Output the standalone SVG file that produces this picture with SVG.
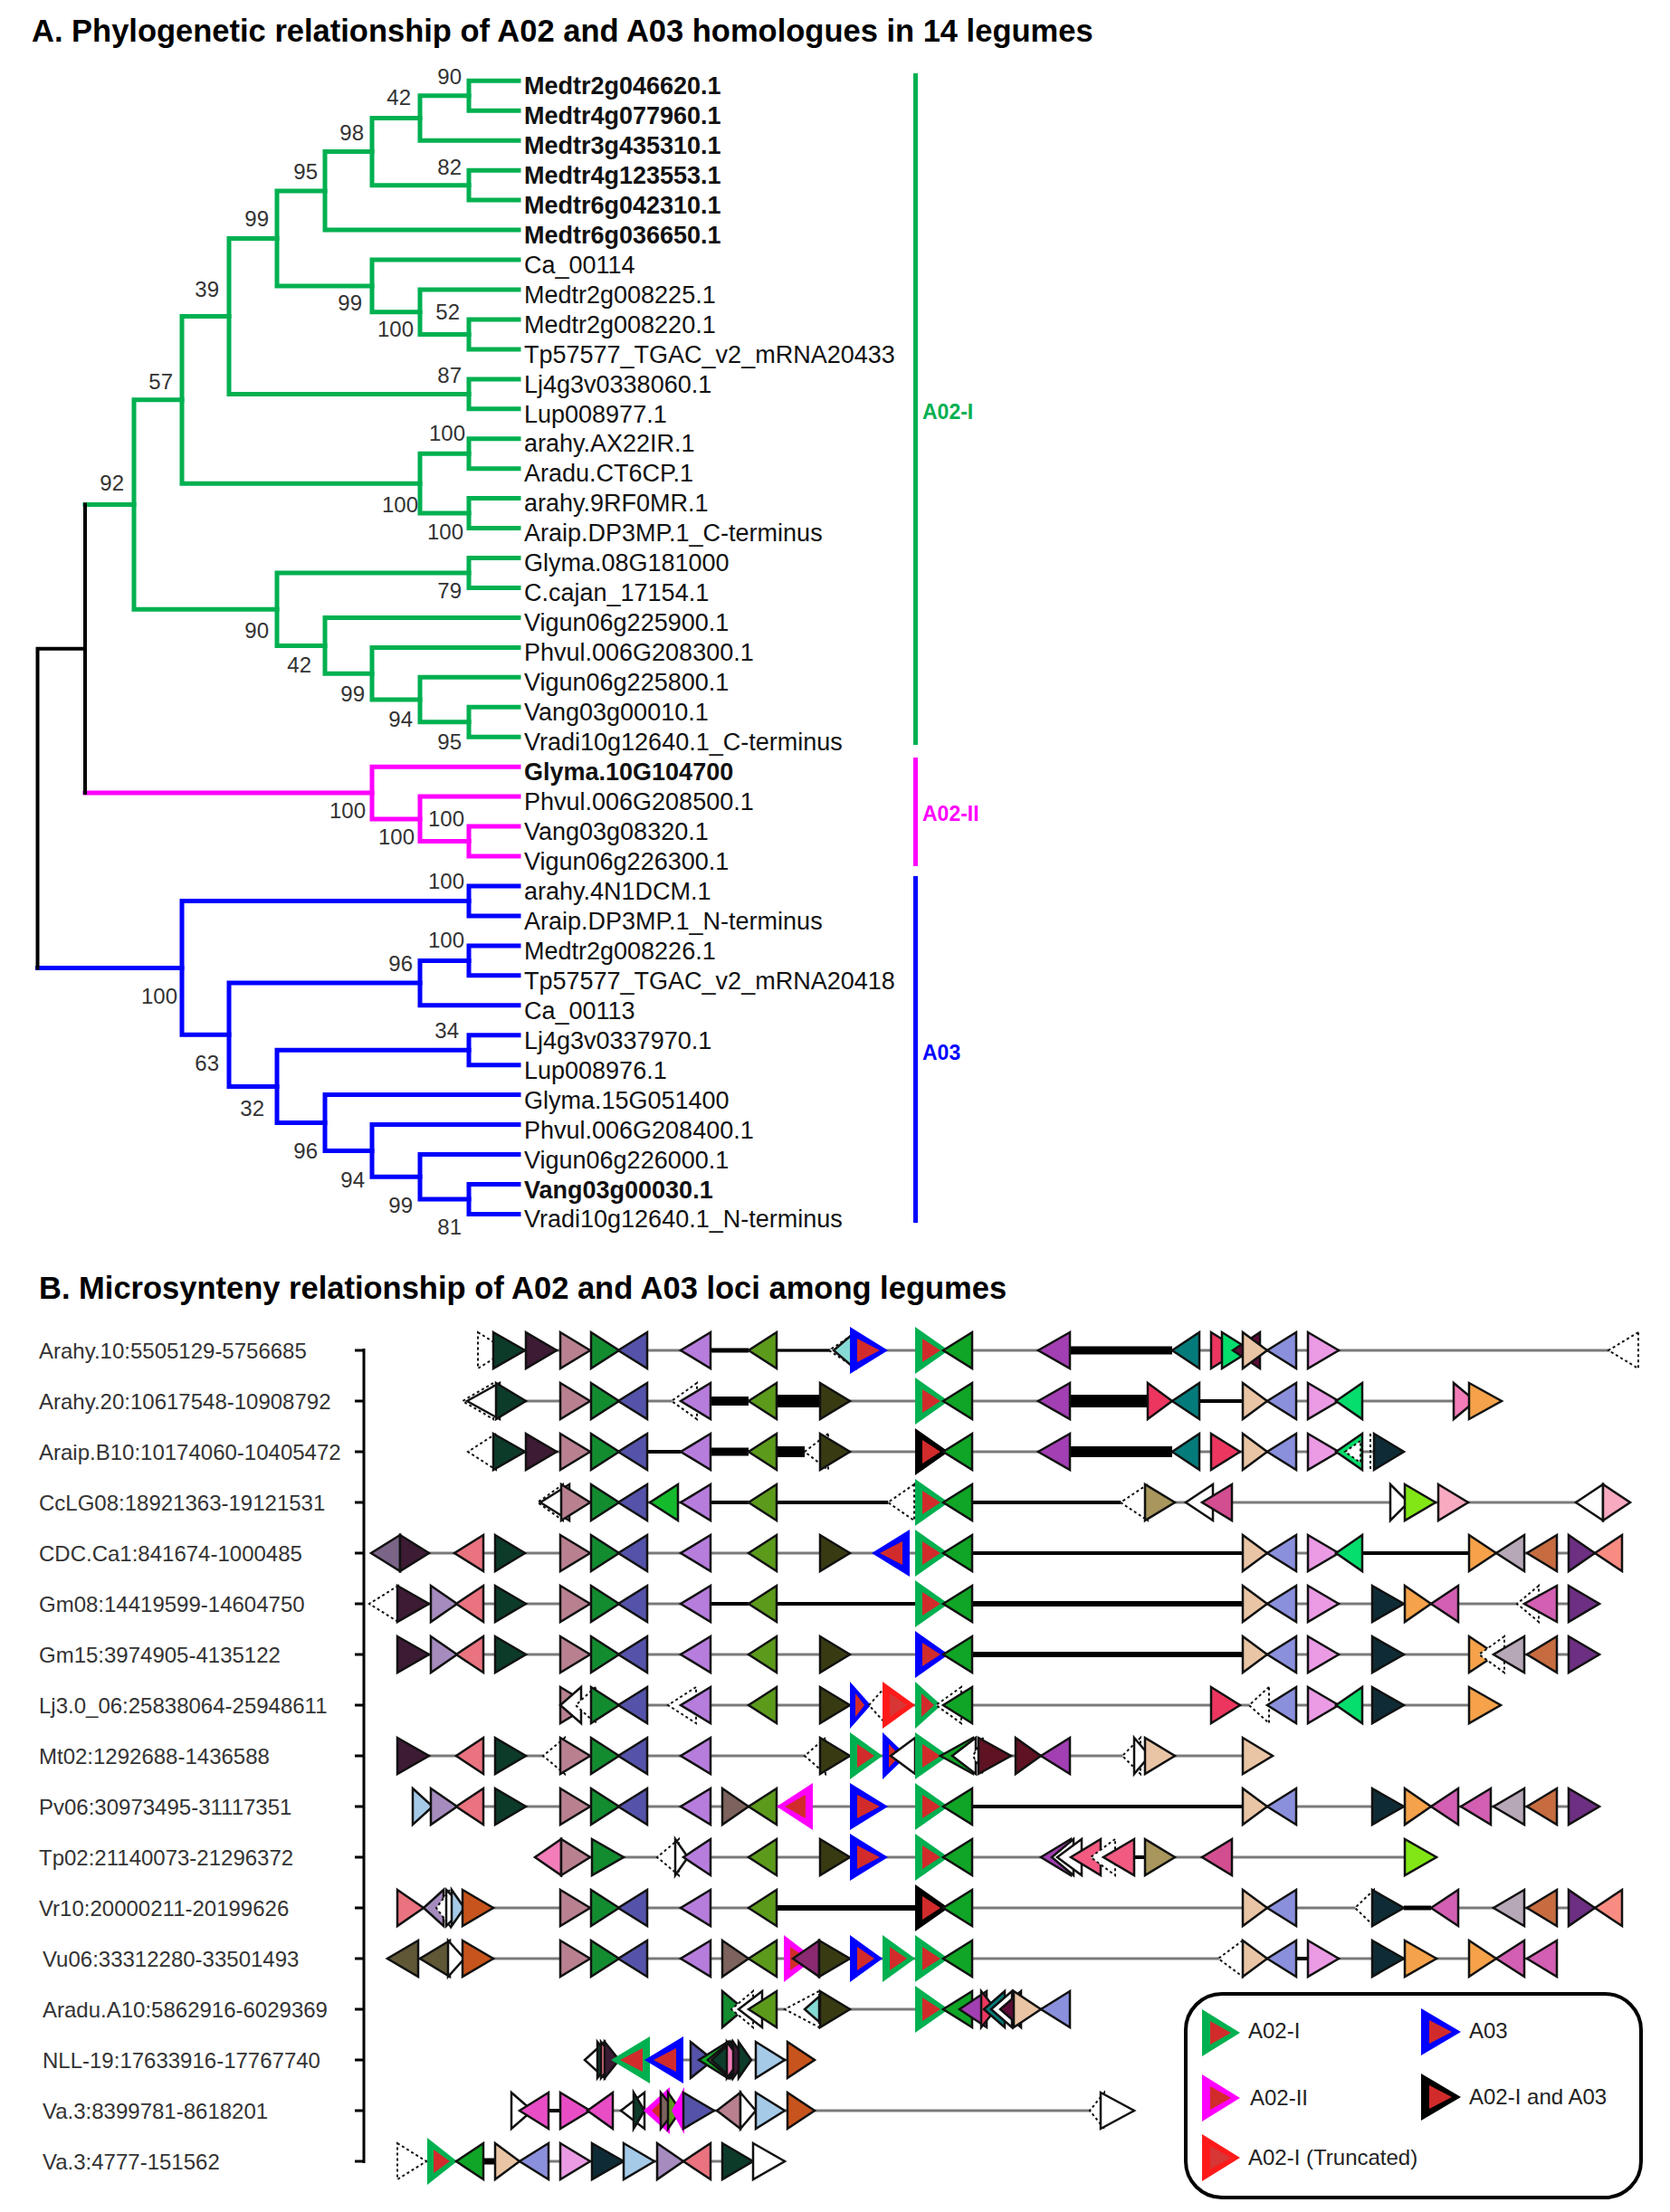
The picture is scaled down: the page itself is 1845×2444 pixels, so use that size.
<svg xmlns="http://www.w3.org/2000/svg" width="1845" height="2444" viewBox="0 0 1845 2444">
<style>
text{font-family:"Liberation Sans",Arial,sans-serif}
.ttl{font-size:34.5px;font-weight:bold;fill:#000}
.lf{font-size:27px;fill:#111}
.b{font-weight:bold}
.bs{font-size:24px;fill:#333;text-anchor:end}
.cl{font-size:23px;font-weight:bold}
.rl{font-size:24px;fill:#333}
.lg{font-size:24px;fill:#222}
.br{fill:none;stroke-width:5;stroke-linecap:square;stroke-linejoin:miter}
.gr{stroke:#00B050}.mg{stroke:#FF00FF}.bl{stroke:#0000FF}.bk{stroke:#000;stroke-width:4}
.row polygon{stroke:#111;stroke-width:2.5;stroke-linejoin:miter}
.row polygon.h{stroke:none}
.row polygon.d,.d{fill:#fff;stroke:#111;stroke-width:2;stroke-dasharray:3 3}
.dl{stroke:#111;stroke-width:2;stroke-dasharray:3 3}
.ln{stroke:#7a7a7a;stroke-width:3}
.lb{stroke:#000}
.w{fill:#fff}
.k1{fill:#0D3B2A}.k2{fill:#3D1B34}.k3{fill:#B9818F}.k4{fill:#138C30}.k5{fill:#5553A9}.k6{fill:#B67DDC}
.k7{fill:#5C9A1C}.k8{fill:#383B12}.k9{fill:#10A526}.ka{fill:#A23FB2}.kb{fill:#047B7B}.kc{fill:#EC3660}
.kd{fill:#E9C5A5}.ke{fill:#8A90DC}.kf{fill:#EA9BE4}.kg{fill:#05DE6C}.kh{fill:#F27DB8}.ki{fill:#F5A24A}
.kj{fill:#0F2C36}.kk{fill:#A9965C}.kl{fill:#D24E90}.km{fill:#82E616}.kn{fill:#F8AAC0}.ko{fill:#7B6587}
.kp{fill:#E9737F}.kq{fill:#B6A8B6}.kr{fill:#C66C40}.ks{fill:#6C2F82}.kt{fill:#F98C82}.ku{fill:#A58BBE}
.kv{fill:#D25FB2}.kw{fill:#A5CAE8}.kx{fill:#7D635D}.ky{fill:#5E1222}.kz{fill:#C7541C}.kA{fill:#5F5735}
.kB{fill:#E94DC6}.kC{fill:#86DAD5}.kD{fill:#5C0C36}.kE{fill:#14BA2C}.kF{fill:#F25A82}.kG{fill:#8B2A70}
.hA{fill:#00B050}.hB{fill:#0000FF}.hC{fill:#FF00FF}.hD{fill:#000}.hE{fill:#FF1A1A}.hi{fill:#D22B2B}.hj{fill:#D83535}
</style>

<text class="ttl" x="35" y="46">A. Phylogenetic relationship of A02 and A03 homologues in 14 legumes</text>

<g id="tree-branches">
<g class="br gr">
<path d="M573,89.3H518V122.3H573"/>
<path d="M518,105.8H464V155.2H573"/>
<path d="M573,188.2H518V221.1H573"/>
<path d="M464,130.5H411V204.7H518"/>
<path d="M411,167.6H359V254.1H573"/>
<path d="M573,353.0H518V385.9H573"/>
<path d="M573,320.0H464V369.5H518"/>
<path d="M573,287.0H411V344.8H464"/>
<path d="M359,210.9H306V315.9H411"/>
<path d="M573,418.9H518V451.8H573"/>
<path d="M306,263.4H253V435.4H518"/>
<path d="M573,484.7H518V517.7H573"/>
<path d="M573,550.6H518V583.6H573"/>
<path d="M518,501.2H464V567.1H518"/>
<path d="M253,349.4H201V534.2H464"/>
<path d="M573,616.5H518V649.5H573"/>
<path d="M573,781.3H518V814.2H573"/>
<path d="M573,748.3H464V797.8H518"/>
<path d="M573,715.4H411V773.1H464"/>
<path d="M573,682.4H359V744.3H411"/>
<path d="M518,633.0H306V713.4H359"/>
<path d="M201,441.8H148V673.2H306"/>
<path d="M148,557.5H94"/>
</g>
<g class="br mg">
<path d="M573,913.1H518V946.0H573"/>
<path d="M573,880.1H464V929.6H518"/>
<path d="M573,847.2H411V904.9H464"/>
<path d="M411,876.0H94"/>
</g>
<g class="br bl">
<path d="M573,979.0H518V1011.9H573"/>
<path d="M573,1044.9H518V1077.8H573"/>
<path d="M518,1061.4H464V1110.8H573"/>
<path d="M573,1143.7H518V1176.7H573"/>
<path d="M573,1308.5H518V1341.4H573"/>
<path d="M573,1275.5H464V1325.0H518"/>
<path d="M573,1242.6H411V1300.3H464"/>
<path d="M573,1209.6H359V1271.5H411"/>
<path d="M518,1160.2H306V1240.6H359"/>
<path d="M464,1086.1H253V1200.4H306"/>
<path d="M518,995.5H201V1143.3H253"/>
<path d="M41.5,1069.4H201"/>
</g>
<g class="br bk">
<path d="M94,557.5V876.0"/>
<path d="M94,716.8H41.5V1069.4"/>
</g>
</g>

<g id="bootstrap">
<text class="bs" x="510" y="93">90</text>
<text class="bs" x="454" y="116">42</text>
<text class="bs" x="402" y="155">98</text>
<text class="bs" x="510" y="193">82</text>
<text class="bs" x="351" y="198">95</text>
<text class="bs" x="297" y="250">99</text>
<text class="bs" x="242" y="328">39</text>
<text class="bs" x="400" y="343">99</text>
<text class="bs" x="508" y="353">52</text>
<text class="bs" x="457" y="372">100</text>
<text class="bs" x="510" y="423">87</text>
<text class="bs" x="191" y="430">57</text>
<text class="bs" x="514" y="487">100</text>
<text class="bs" x="137" y="542">92</text>
<text class="bs" x="462" y="566">100</text>
<text class="bs" x="512" y="596">100</text>
<text class="bs" x="510" y="661">79</text>
<text class="bs" x="297" y="705">90</text>
<text class="bs" x="344" y="743">42</text>
<text class="bs" x="403" y="775">99</text>
<text class="bs" x="456" y="803">94</text>
<text class="bs" x="510" y="828">95</text>
<text class="bs" x="404" y="904">100</text>
<text class="bs" x="513" y="913">100</text>
<text class="bs" x="458" y="933">100</text>
<text class="bs" x="513" y="982">100</text>
<text class="bs" x="513" y="1047">100</text>
<text class="bs" x="456" y="1073">96</text>
<text class="bs" x="196" y="1109">100</text>
<text class="bs" x="507" y="1147">34</text>
<text class="bs" x="242" y="1183">63</text>
<text class="bs" x="292" y="1233">32</text>
<text class="bs" x="351" y="1280">96</text>
<text class="bs" x="403" y="1312">94</text>
<text class="bs" x="456" y="1340">99</text>
<text class="bs" x="510" y="1364">81</text>
</g>

<g id="leaves">
<text id="leaf01" class="lf b" x="579" y="104">Medtr2g046620.1</text>
<text id="leaf02" class="lf b" x="579" y="137">Medtr4g077960.1</text>
<text id="leaf03" class="lf b" x="579" y="170">Medtr3g435310.1</text>
<text id="leaf04" class="lf b" x="579" y="203">Medtr4g123553.1</text>
<text id="leaf05" class="lf b" x="579" y="236">Medtr6g042310.1</text>
<text id="leaf06" class="lf b" x="579" y="269">Medtr6g036650.1</text>
<text id="leaf07" class="lf" x="579" y="302">Ca_00114</text>
<text id="leaf08" class="lf" x="579" y="335">Medtr2g008225.1</text>
<text id="leaf09" class="lf" x="579" y="368">Medtr2g008220.1</text>
<text id="leaf10" class="lf" x="579" y="401">Tp57577_TGAC_v2_mRNA20433</text>
<text id="leaf11" class="lf" x="579" y="434">Lj4g3v0338060.1</text>
<text id="leaf12" class="lf" x="579" y="467">Lup008977.1</text>
<text id="leaf13" class="lf" x="579" y="499">arahy.AX22IR.1</text>
<text id="leaf14" class="lf" x="579" y="532">Aradu.CT6CP.1</text>
<text id="leaf15" class="lf" x="579" y="565">arahy.9RF0MR.1</text>
<text id="leaf16" class="lf" x="579" y="598">Araip.DP3MP.1_C-terminus</text>
<text id="leaf17" class="lf" x="579" y="631">Glyma.08G181000</text>
<text id="leaf18" class="lf" x="579" y="664">C.cajan_17154.1</text>
<text id="leaf19" class="lf" x="579" y="697">Vigun06g225900.1</text>
<text id="leaf20" class="lf" x="579" y="730">Phvul.006G208300.1</text>
<text id="leaf21" class="lf" x="579" y="763">Vigun06g225800.1</text>
<text id="leaf22" class="lf" x="579" y="796">Vang03g00010.1</text>
<text id="leaf23" class="lf" x="579" y="829">Vradi10g12640.1_C-terminus</text>
<text id="leaf24" class="lf b" x="579" y="862">Glyma.10G104700</text>
<text id="leaf25" class="lf" x="579" y="895">Phvul.006G208500.1</text>
<text id="leaf26" class="lf" x="579" y="928">Vang03g08320.1</text>
<text id="leaf27" class="lf" x="579" y="961">Vigun06g226300.1</text>
<text id="leaf28" class="lf" x="579" y="994">arahy.4N1DCM.1</text>
<text id="leaf29" class="lf" x="579" y="1027">Araip.DP3MP.1_N-terminus</text>
<text id="leaf30" class="lf" x="579" y="1060">Medtr2g008226.1</text>
<text id="leaf31" class="lf" x="579" y="1093">Tp57577_TGAC_v2_mRNA20418</text>
<text id="leaf32" class="lf" x="579" y="1126">Ca_00113</text>
<text id="leaf33" class="lf" x="579" y="1159">Lj4g3v0337970.1</text>
<text id="leaf34" class="lf" x="579" y="1192">Lup008976.1</text>
<text id="leaf35" class="lf" x="579" y="1225">Glyma.15G051400</text>
<text id="leaf36" class="lf" x="579" y="1258">Phvul.006G208400.1</text>
<text id="leaf37" class="lf" x="579" y="1291">Vigun06g226000.1</text>
<text id="leaf38" class="lf b" x="579" y="1324">Vang03g00030.1</text>
<text id="leaf39" class="lf" x="579" y="1356">Vradi10g12640.1_N-terminus</text>
</g>

<g id="clade-A02-I"><rect x="1009" y="81" width="5" height="742" fill="#00B050"/><text class="cl" x="1019" y="463" fill="#00B050">A02-I</text></g>
<g id="clade-A02-II"><rect x="1009" y="837" width="5" height="120" fill="#FF00FF"/><text class="cl" x="1019" y="907" fill="#FF00FF">A02-II</text></g>
<g id="clade-A03"><rect x="1009" y="968" width="5" height="383" fill="#0000FF"/><text class="cl" x="1019" y="1171" fill="#0000FF">A03</text></g>

<text class="ttl" x="43" y="1435">B. Microsynteny relationship of A02 and A03 loci among legumes</text>

<g id="row-labels">
<text class="rl" x="43" y="1501">Arahy.10:5505129-5756685</text>
<text class="rl" x="43" y="1557">Arahy.20:10617548-10908792</text>
<text class="rl" x="43" y="1613">Araip.B10:10174060-10405472</text>
<text class="rl" x="43" y="1669">CcLG08:18921363-19121531</text>
<text class="rl" x="43" y="1725">CDC.Ca1:841674-1000485</text>
<text class="rl" x="43" y="1781">Gm08:14419599-14604750</text>
<text class="rl" x="43" y="1837">Gm15:3974905-4135122</text>
<text class="rl" x="43" y="1893">Lj3.0_06:25838064-25948611</text>
<text class="rl" x="43" y="1949">Mt02:1292688-1436588</text>
<text class="rl" x="43" y="2005">Pv06:30973495-31117351</text>
<text class="rl" x="43" y="2061">Tp02:21140073-21296372</text>
<text class="rl" x="43" y="2117">Vr10:20000211-20199626</text>
<text class="rl" x="47" y="2173">Vu06:33312280-33501493</text>
<text class="rl" x="47" y="2229">Aradu.A10:5862916-6029369</text>
<text class="rl" x="47" y="2285">NLL-19:17633916-17767740</text>
<text class="rl" x="47" y="2341">Va.3:8399781-8618201</text>
<text class="rl" x="47" y="2397">Va.3:4777-151562</text>
</g>

<g id="axis" stroke="#000" stroke-width="3">
<line x1="402" y1="1490" x2="402" y2="2390"/>
<path d="M392,1492H402M392,1548H402M392,1604H402M392,1660H402M392,1716H402M392,1772H402M392,1828H402M392,1884H402M392,1940H402M392,1996H402M392,2052H402M392,2108H402M392,2164H402M392,2220H402M392,2276H402M392,2332H402M392,2388H402" fill="none"/>
</g>

<g id="connectors">
<line class="ln" x1="528" y1="1492" x2="1810" y2="1492"/>
<line class="lb" stroke-width="5" x1="785" y1="1492" x2="827" y2="1492"/>
<line class="lb" stroke-width="3" x1="858" y1="1492" x2="918" y2="1492"/>
<line class="lb" stroke-width="9" x1="1182" y1="1492" x2="1295" y2="1492"/>
<line class="ln" x1="515" y1="1548" x2="1659" y2="1548"/>
<line class="lb" stroke-width="10" x1="785" y1="1548" x2="827" y2="1548"/>
<line class="lb" stroke-width="14" x1="858" y1="1548" x2="906" y2="1548"/>
<line class="lb" stroke-width="14" x1="1182" y1="1548" x2="1268" y2="1548"/>
<line class="lb" stroke-width="4" x1="1325" y1="1548" x2="1373" y2="1548"/>
<line class="ln" x1="517" y1="1604" x2="1551" y2="1604"/>
<line class="lb" stroke-width="4" x1="715" y1="1604" x2="752" y2="1604"/>
<line class="lb" stroke-width="9" x1="785" y1="1604" x2="827" y2="1604"/>
<line class="lb" stroke-width="12" x1="858" y1="1604" x2="889" y2="1604"/>
<line class="lb" stroke-width="12" x1="1182" y1="1604" x2="1295" y2="1604"/>
<line class="ln" x1="597" y1="1660" x2="1801" y2="1660"/>
<line class="lb" stroke-width="4" x1="785" y1="1660" x2="827" y2="1660"/>
<line class="lb" stroke-width="4" x1="858" y1="1660" x2="981" y2="1660"/>
<line class="lb" stroke-width="4" x1="1074" y1="1660" x2="1238" y2="1660"/>
<line class="ln" x1="410" y1="1716" x2="1792" y2="1716"/>
<line class="lb" stroke-width="4" x1="1074" y1="1716" x2="1373" y2="1716"/>
<line class="lb" stroke-width="4" x1="1505" y1="1716" x2="1623" y2="1716"/>
<line class="ln" x1="408" y1="1772" x2="1767" y2="1772"/>
<line class="lb" stroke-width="4" x1="785" y1="1772" x2="827" y2="1772"/>
<line class="lb" stroke-width="4" x1="858" y1="1772" x2="1011" y2="1772"/>
<line class="lb" stroke-width="6" x1="1074" y1="1772" x2="1373" y2="1772"/>
<line class="ln" x1="439" y1="1828" x2="1767" y2="1828"/>
<line class="lb" stroke-width="6" x1="1074" y1="1828" x2="1373" y2="1828"/>
<line class="ln" x1="619" y1="1884" x2="1658" y2="1884"/>
<line class="ln" x1="439" y1="1940" x2="1406" y2="1940"/>
<line class="ln" x1="456" y1="1996" x2="1767" y2="1996"/>
<line class="lb" stroke-width="4" x1="1074" y1="1996" x2="1373" y2="1996"/>
<line class="ln" x1="591" y1="2052" x2="1587" y2="2052"/>
<line class="lb" stroke-width="4" x1="1253" y1="2052" x2="1265" y2="2052"/>
<line class="ln" x1="439" y1="2108" x2="1792" y2="2108"/>
<line class="lb" stroke-width="6" x1="858" y1="2108" x2="1011" y2="2108"/>
<line class="lb" stroke-width="5" x1="1551" y1="2108" x2="1581" y2="2108"/>
<line class="ln" x1="428" y1="2164" x2="1720" y2="2164"/>
<line class="lb" stroke-width="4" x1="1432" y1="2164" x2="1445" y2="2164"/>
<line class="ln" x1="798" y1="2220" x2="1182" y2="2220"/>
<line class="ln" x1="646" y1="2276" x2="900" y2="2276"/>
<line class="ln" x1="565" y1="2332" x2="1253" y2="2332"/>
<line class="lb" stroke-width="4" x1="606" y1="2332" x2="619" y2="2332"/>
<line class="ln" x1="439" y1="2388" x2="867" y2="2388"/>
<line class="lb" stroke-width="7" x1="534" y1="2388" x2="547" y2="2388"/>
</g>

<g id="row01" class="row" transform="translate(0,1492)">
<polygon class="d" points="528,-20 560,0 528,20"/>
<polygon class="k1" points="545,-20 580,0 545,20"/>
<polygon class="k2" points="581,-20 615,0 581,20"/>
<polygon class="k3" points="619,-20 652,0 619,20"/>
<polygon class="k4" points="653,-20 684,0 653,20"/>
<polygon class="k5" points="715,-20 683,0 715,20"/>
<polygon class="k6" points="785,-20 752,0 785,20"/>
<polygon class="k7" points="858,-20 827,0 858,20"/>
<polygon class="d" points="946,-20 916,0 946,20"/>
<polygon class="kC" points="942,-18 921,0 942,18"/>
<polygon class="h hB" points="939,-26 981,0 939,26"/><polygon class="h hi" points="947,-13 972,0 947,13"/>
<polygon class="h hA" points="1011,-26 1048,0 1011,26"/><polygon class="h hi" points="1019,-13 1039,0 1019,13"/>
<polygon class="k9" points="1074,-20 1042,0 1074,20"/>
<polygon class="ka" points="1182,-20 1147,0 1182,20"/>
<polygon class="kb" points="1325,-20 1295,0 1325,20"/>
<polygon class="kc" points="1338,-20 1370,0 1338,20"/>
<polygon class="kg" points="1350,-20 1382,0 1350,20"/>
<polygon class="kD" points="1392,-20 1362,0 1392,20"/>
<polygon class="kd" points="1373,-20 1400,0 1373,20"/>
<polygon class="ke" points="1432,-20 1400,0 1432,20"/>
<polygon class="kf" points="1445,-20 1479,0 1445,20"/>
<polygon class="d" points="1810,-20 1777,0 1810,20"/>
</g>

<g id="row02" class="row" transform="translate(0,1548)">
<polygon class="d" points="545,-20 511,0 545,20"/>
<polygon class="w" points="552,-20 516,0 552,20"/>
<polygon class="k1" points="548,-20 581,0 548,20"/>
<polygon class="k3" points="619,-20 652,0 619,20"/>
<polygon class="k4" points="653,-20 684,0 653,20"/>
<polygon class="k5" points="715,-20 683,0 715,20"/>
<polygon class="d" points="770,-20 742,0 770,20"/>
<polygon class="k6" points="785,-20 752,0 785,20"/>
<polygon class="k7" points="858,-20 827,0 858,20"/>
<polygon class="k8" points="906,-20 939,0 906,20"/>
<polygon class="h hA" points="1011,-26 1048,0 1011,26"/><polygon class="h hi" points="1019,-13 1039,0 1019,13"/>
<polygon class="k9" points="1074,-20 1042,0 1074,20"/>
<polygon class="ka" points="1182,-20 1147,0 1182,20"/>
<polygon class="kc" points="1268,-20 1295,0 1268,20"/>
<polygon class="kb" points="1325,-20 1295,0 1325,20"/>
<polygon class="kd" points="1373,-20 1400,0 1373,20"/>
<polygon class="ke" points="1432,-20 1400,0 1432,20"/>
<polygon class="kf" points="1445,-20 1479,0 1445,20"/>
<polygon class="kg" points="1505,-20 1476,0 1505,20"/>
<polygon class="kh" points="1606,-20 1630,0 1606,20"/>
<polygon class="ki" points="1623,-20 1659,0 1623,20"/>
</g>

<g id="row03" class="row" transform="translate(0,1604)">
<polygon class="d" points="548,-20 517,0 548,20"/>
<polygon class="k1" points="545,-20 580,0 545,20"/>
<polygon class="k2" points="581,-20 615,0 581,20"/>
<polygon class="k3" points="619,-20 652,0 619,20"/>
<polygon class="k4" points="653,-20 684,0 653,20"/>
<polygon class="k5" points="715,-20 683,0 715,20"/>
<polygon class="k6" points="785,-20 752,0 785,20"/>
<polygon class="k7" points="858,-20 827,0 858,20"/>
<polygon class="d" points="915,-20 889,0 915,20"/>
<polygon class="k8" points="906,-20 939,0 906,20"/>
<polygon class="h hD" points="1011,-26 1048,0 1011,26"/><polygon class="h hi" points="1019,-13 1039,0 1019,13"/>
<polygon class="k9" points="1074,-20 1042,0 1074,20"/>
<polygon class="ka" points="1182,-20 1147,0 1182,20"/>
<polygon class="kb" points="1325,-20 1295,0 1325,20"/>
<polygon class="kc" points="1338,-20 1370,0 1338,20"/>
<polygon class="kd" points="1373,-20 1400,0 1373,20"/>
<polygon class="ke" points="1432,-20 1400,0 1432,20"/>
<polygon class="kf" points="1445,-20 1479,0 1445,20"/>
<polygon class="kg" points="1505,-20 1476,0 1505,20"/>
<polygon class="d" points="1503,-12 1486,0 1503,12"/>
<line class="dl" x1="1514" y1="-20" x2="1514" y2="20"/>
<polygon class="kj" points="1518,-20 1551,0 1518,20"/>
</g>

<g id="row04" class="row" transform="translate(0,1660)">
<polygon class="d" points="622,-20 594,0 622,20"/>
<polygon class="w" points="629,-20 597,0 629,20"/>
<polygon class="k3" points="620,-20 652,0 620,20"/>
<polygon class="k4" points="653,-20 684,0 653,20"/>
<polygon class="k5" points="715,-20 683,0 715,20"/>
<polygon class="kE" points="749,-20 718,0 749,20"/>
<polygon class="k6" points="785,-20 752,0 785,20"/>
<polygon class="k7" points="858,-20 827,0 858,20"/>
<polygon class="d" points="1010,-20 981,0 1010,20"/>
<polygon class="h hA" points="1011,-26 1048,0 1011,26"/><polygon class="h hi" points="1019,-13 1039,0 1019,13"/>
<polygon class="k9" points="1074,-20 1042,0 1074,20"/>
<polygon class="d" points="1268,-20 1238,0 1268,20"/>
<polygon class="kk" points="1265,-20 1298,0 1265,20"/>
<polygon class="w" points="1340,-20 1310,0 1340,20"/>
<polygon class="kl" points="1361,-20 1328,0 1361,20"/>
<polygon class="w" points="1536,-20 1556,0 1536,20"/>
<polygon class="km" points="1552,-20 1586,0 1552,20"/>
<polygon class="kn" points="1589,-20 1622,0 1589,20"/>
<polygon class="w" points="1771,-20 1741,0 1771,20"/>
<polygon class="kn" points="1771,-20 1801,0 1771,20"/>
</g>

<g id="row05" class="row" transform="translate(0,1716)">
<polygon class="ko" points="442,-20 410,0 442,20"/>
<polygon class="k2" points="442,-20 474,0 442,20"/>
<polygon class="kp" points="534,-20 502,0 534,20"/>
<polygon class="k1" points="547,-20 580,0 547,20"/>
<polygon class="k3" points="619,-20 652,0 619,20"/>
<polygon class="k4" points="653,-20 684,0 653,20"/>
<polygon class="k5" points="715,-20 683,0 715,20"/>
<polygon class="k6" points="785,-20 752,0 785,20"/>
<polygon class="k7" points="858,-20 827,0 858,20"/>
<polygon class="k8" points="906,-20 939,0 906,20"/>
<polygon class="h hB" points="1005,-26 963,0 1005,26"/><polygon class="h hi" points="997,-13 972,0 997,13"/>
<polygon class="h hA" points="1011,-26 1048,0 1011,26"/><polygon class="h hi" points="1019,-13 1039,0 1019,13"/>
<polygon class="k9" points="1074,-20 1042,0 1074,20"/>
<polygon class="kd" points="1373,-20 1400,0 1373,20"/>
<polygon class="ke" points="1432,-20 1400,0 1432,20"/>
<polygon class="kf" points="1445,-20 1479,0 1445,20"/>
<polygon class="kg" points="1505,-20 1476,0 1505,20"/>
<polygon class="ki" points="1623,-20 1653,0 1623,20"/>
<polygon class="kq" points="1684,-20 1653,0 1684,20"/>
<polygon class="kr" points="1720,-20 1687,0 1720,20"/>
<polygon class="ks" points="1733,-20 1762,0 1733,20"/>
<polygon class="kt" points="1792,-20 1762,0 1792,20"/>
</g>

<g id="row06" class="row" transform="translate(0,1772)">
<polygon class="d" points="440,-20 408,0 440,20"/>
<polygon class="k2" points="439,-20 474,0 439,20"/>
<polygon class="ku" points="476,-20 505,0 476,20"/>
<polygon class="kp" points="534,-20 504,0 534,20"/>
<polygon class="k1" points="547,-20 581,0 547,20"/>
<polygon class="k3" points="619,-20 652,0 619,20"/>
<polygon class="k4" points="653,-20 684,0 653,20"/>
<polygon class="k5" points="715,-20 683,0 715,20"/>
<polygon class="k6" points="785,-20 752,0 785,20"/>
<polygon class="k7" points="858,-20 827,0 858,20"/>
<polygon class="h hA" points="1011,-26 1048,0 1011,26"/><polygon class="h hi" points="1019,-13 1039,0 1019,13"/>
<polygon class="k9" points="1074,-20 1042,0 1074,20"/>
<polygon class="kd" points="1373,-20 1400,0 1373,20"/>
<polygon class="ke" points="1432,-20 1400,0 1432,20"/>
<polygon class="kf" points="1445,-20 1479,0 1445,20"/>
<polygon class="kj" points="1516,-20 1551,0 1516,20"/>
<polygon class="ki" points="1552,-20 1581,0 1552,20"/>
<polygon class="kv" points="1611,-20 1581,0 1611,20"/>
<polygon class="d" points="1700,-20 1676,0 1700,20"/>
<polygon class="kv" points="1720,-20 1684,0 1720,20"/>
<polygon class="ks" points="1733,-20 1767,0 1733,20"/>
</g>

<g id="row07" class="row" transform="translate(0,1828)">
<polygon class="k2" points="439,-20 474,0 439,20"/>
<polygon class="ku" points="476,-20 505,0 476,20"/>
<polygon class="kp" points="534,-20 504,0 534,20"/>
<polygon class="k1" points="547,-20 581,0 547,20"/>
<polygon class="k3" points="619,-20 652,0 619,20"/>
<polygon class="k4" points="653,-20 684,0 653,20"/>
<polygon class="k5" points="715,-20 683,0 715,20"/>
<polygon class="k6" points="785,-20 752,0 785,20"/>
<polygon class="k7" points="858,-20 827,0 858,20"/>
<polygon class="k8" points="906,-20 939,0 906,20"/>
<polygon class="h hB" points="1011,-26 1048,0 1011,26"/><polygon class="h hi" points="1019,-13 1039,0 1019,13"/>
<polygon class="k9" points="1074,-20 1042,0 1074,20"/>
<polygon class="kd" points="1373,-20 1400,0 1373,20"/>
<polygon class="ke" points="1432,-20 1400,0 1432,20"/>
<polygon class="kf" points="1445,-20 1479,0 1445,20"/>
<polygon class="kj" points="1516,-20 1551,0 1516,20"/>
<polygon class="ki" points="1623,-20 1653,0 1623,20"/>
<polygon class="d" points="1662,-20 1634,0 1662,20"/>
<polygon class="kq" points="1684,-20 1650,0 1684,20"/>
<polygon class="kr" points="1720,-20 1687,0 1720,20"/>
<polygon class="ks" points="1733,-20 1767,0 1733,20"/>
</g>

<g id="row08" class="row" transform="translate(0,1884)">
<polygon class="k3" points="619,-20 652,0 619,20"/>
<polygon class="w" points="642,-20 619,0 642,20"/>
<polygon class="d" points="658,-20 636,0 658,20"/>
<polygon class="k4" points="653,-20 684,0 653,20"/>
<polygon class="k5" points="715,-20 683,0 715,20"/>
<polygon class="d" points="769,-20 738,0 769,20"/>
<polygon class="k6" points="785,-20 752,0 785,20"/>
<polygon class="k7" points="858,-20 827,0 858,20"/>
<polygon class="k8" points="906,-20 939,0 906,20"/>
<polygon class="h hB" points="939,-26 962,0 939,26"/><polygon class="h hi" points="945,-13 955,0 945,13"/>
<polygon class="d" points="978,-20 960,0 978,20"/>
<polygon class="h hE" points="975,-26 1011,0 975,26"/><polygon class="h hj" points="983,-13 1002,0 983,13"/>
<polygon class="h hA" points="1011,-26 1040,0 1011,26"/><polygon class="h hi" points="1018,-13 1032,0 1018,13"/>
<polygon class="d" points="1062,-20 1034,0 1062,20"/>
<polygon class="k9" points="1074,-20 1042,0 1074,20"/>
<polygon class="kc" points="1338,-20 1370,0 1338,20"/>
<polygon class="d" points="1402,-20 1380,0 1402,20"/>
<polygon class="ke" points="1432,-20 1400,0 1432,20"/>
<polygon class="kf" points="1445,-20 1479,0 1445,20"/>
<polygon class="kg" points="1505,-20 1476,0 1505,20"/>
<polygon class="kj" points="1516,-20 1551,0 1516,20"/>
<polygon class="ki" points="1623,-20 1658,0 1623,20"/>
</g>

<g id="row09" class="row" transform="translate(0,1940)">
<polygon class="k2" points="439,-20 474,0 439,20"/>
<polygon class="kp" points="534,-20 504,0 534,20"/>
<polygon class="k1" points="547,-20 581,0 547,20"/>
<polygon class="d" points="624,-20 600,0 624,20"/>
<polygon class="k3" points="619,-20 652,0 619,20"/>
<polygon class="k4" points="653,-20 684,0 653,20"/>
<polygon class="k5" points="715,-20 683,0 715,20"/>
<polygon class="k6" points="785,-20 752,0 785,20"/>
<polygon class="d" points="912,-20 889,0 912,20"/>
<polygon class="k8" points="906,-20 939,0 906,20"/>
<polygon class="h hA" points="939,-26 975,0 939,26"/><polygon class="h hi" points="947,-13 966,0 947,13"/>
<polygon class="h hB" points="975,-26 1002,0 975,26"/><polygon class="h hi" points="982,-13 994,0 982,13"/>
<polygon class="w" points="1011,-20 984,0 1011,20"/>
<polygon class="h hA" points="1011,-26 1048,0 1011,26"/><polygon class="h hi" points="1019,-13 1039,0 1019,13"/>
<polygon class="k9" points="1075,-20 1039,0 1075,20"/>
<polygon class="w" points="1078,-20 1052,0 1078,20"/>
<polygon class="d" points="1086,-20 1075,0 1086,20"/>
<polygon class="ky" points="1081,-20 1117,0 1081,20"/>
<polygon class="ky" points="1122,-20 1150,0 1122,20"/>
<polygon class="ka" points="1182,-20 1150,0 1182,20"/>
<polygon class="d" points="1260,-20 1240,0 1260,20"/>
<polygon class="w" points="1253,-20 1270,0 1253,20"/>
<polygon class="kd" points="1265,-20 1298,0 1265,20"/>
<polygon class="kd" points="1373,-20 1406,0 1373,20"/>
</g>

<g id="row10" class="row" transform="translate(0,1996)">
<polygon class="kw" points="456,-20 478,0 456,20"/>
<polygon class="ku" points="476,-20 505,0 476,20"/>
<polygon class="kp" points="534,-20 504,0 534,20"/>
<polygon class="k1" points="547,-20 581,0 547,20"/>
<polygon class="k3" points="619,-20 652,0 619,20"/>
<polygon class="k4" points="653,-20 684,0 653,20"/>
<polygon class="k5" points="715,-20 683,0 715,20"/>
<polygon class="k6" points="785,-20 752,0 785,20"/>
<polygon class="kx" points="798,-20 827,0 798,20"/>
<polygon class="k7" points="858,-20 827,0 858,20"/>
<polygon class="h hC" points="898,-26 858,0 898,26"/><polygon class="h hi" points="890,-13 867,0 890,13"/>
<polygon class="h hB" points="939,-26 981,0 939,26"/><polygon class="h hi" points="947,-13 972,0 947,13"/>
<polygon class="h hA" points="1011,-26 1048,0 1011,26"/><polygon class="h hi" points="1019,-13 1039,0 1019,13"/>
<polygon class="k9" points="1074,-20 1042,0 1074,20"/>
<polygon class="kd" points="1373,-20 1400,0 1373,20"/>
<polygon class="ke" points="1432,-20 1400,0 1432,20"/>
<polygon class="kj" points="1516,-20 1551,0 1516,20"/>
<polygon class="ki" points="1552,-20 1581,0 1552,20"/>
<polygon class="kv" points="1611,-20 1581,0 1611,20"/>
<polygon class="kv" points="1647,-20 1614,0 1647,20"/>
<polygon class="kq" points="1684,-20 1650,0 1684,20"/>
<polygon class="kr" points="1720,-20 1687,0 1720,20"/>
<polygon class="ks" points="1733,-20 1767,0 1733,20"/>
</g>

<g id="row11" class="row" transform="translate(0,2052)">
<polygon class="kh" points="620,-20 591,0 620,20"/>
<polygon class="k3" points="620,-20 652,0 620,20"/>
<polygon class="k4" points="654,-20 689,0 654,20"/>
<polygon class="d" points="750,-20 726,0 750,20"/>
<polygon class="w" points="746,-20 760,0 746,20"/>
<polygon class="k6" points="785,-20 755,0 785,20"/>
<polygon class="k7" points="858,-20 827,0 858,20"/>
<polygon class="k8" points="906,-20 939,0 906,20"/>
<polygon class="h hB" points="939,-26 981,0 939,26"/><polygon class="h hi" points="947,-13 972,0 947,13"/>
<polygon class="h hA" points="1011,-26 1048,0 1011,26"/><polygon class="h hi" points="1019,-13 1039,0 1019,13"/>
<polygon class="k9" points="1074,-20 1042,0 1074,20"/>
<polygon class="ka" points="1183,-20 1150,0 1183,20"/>
<polygon class="w" points="1186,-20 1162,0 1186,20"/>
<polygon class="w" points="1195,-20 1168,0 1195,20"/>
<polygon class="kF" points="1216,-20 1183,0 1216,20"/>
<polygon class="d" points="1232,-20 1205,0 1232,20"/>
<polygon class="kF" points="1253,-20 1219,0 1253,20"/>
<polygon class="kk" points="1265,-20 1298,0 1265,20"/>
<polygon class="kl" points="1361,-20 1328,0 1361,20"/>
<polygon class="km" points="1552,-20 1587,0 1552,20"/>
</g>

<g id="row12" class="row" transform="translate(0,2108)">
<polygon class="kp" points="439,-20 468,0 439,20"/>
<polygon class="ku" points="490,-20 468,0 490,20"/>
<polygon class="d" points="497,-20 482,0 497,20"/>
<polygon class="w" points="493,-20 513,0 493,20"/>
<polygon class="kw" points="499,-20 513,0 499,20"/>
<polygon class="kz" points="511,-20 545,0 511,20"/>
<polygon class="k3" points="619,-20 652,0 619,20"/>
<polygon class="k4" points="653,-20 684,0 653,20"/>
<polygon class="k5" points="715,-20 683,0 715,20"/>
<polygon class="k6" points="785,-20 752,0 785,20"/>
<polygon class="k7" points="858,-20 827,0 858,20"/>
<polygon class="h hD" points="1011,-26 1048,0 1011,26"/><polygon class="h hi" points="1019,-13 1039,0 1019,13"/>
<polygon class="k9" points="1074,-20 1042,0 1074,20"/>
<polygon class="kd" points="1373,-20 1400,0 1373,20"/>
<polygon class="ke" points="1432,-20 1400,0 1432,20"/>
<polygon class="d" points="1518,-20 1497,0 1518,20"/>
<polygon class="kj" points="1516,-20 1551,0 1516,20"/>
<polygon class="kv" points="1611,-20 1581,0 1611,20"/>
<polygon class="kq" points="1684,-20 1650,0 1684,20"/>
<polygon class="kr" points="1720,-20 1687,0 1720,20"/>
<polygon class="ks" points="1733,-20 1762,0 1733,20"/>
<polygon class="kt" points="1792,-20 1762,0 1792,20"/>
</g>

<g id="row13" class="row" transform="translate(0,2164)">
<polygon class="kA" points="462,-20 428,0 462,20"/>
<polygon class="kA" points="497,-20 464,0 497,20"/>
<polygon class="w" points="495,-20 513,0 495,20"/>
<polygon class="kz" points="511,-20 545,0 511,20"/>
<polygon class="k3" points="619,-20 652,0 619,20"/>
<polygon class="k4" points="653,-20 684,0 653,20"/>
<polygon class="k5" points="715,-20 683,0 715,20"/>
<polygon class="k6" points="785,-20 752,0 785,20"/>
<polygon class="kx" points="798,-20 827,0 798,20"/>
<polygon class="k7" points="858,-20 827,0 858,20"/>
<polygon class="h hC" points="866,-26 900,0 866,26"/><polygon class="h hi" points="873,-13 892,0 873,13"/>
<polygon class="kG" points="905,-20 876,0 905,20"/>
<polygon class="k8" points="905,-20 939,0 905,20"/>
<polygon class="h hB" points="939,-26 975,0 939,26"/><polygon class="h hi" points="947,-13 966,0 947,13"/>
<polygon class="h hA" points="975,-26 1011,0 975,26"/><polygon class="h hi" points="983,-13 1002,0 983,13"/>
<polygon class="h hA" points="1011,-26 1048,0 1011,26"/><polygon class="h hi" points="1019,-13 1039,0 1019,13"/>
<polygon class="k9" points="1074,-20 1042,0 1074,20"/>
<polygon class="d" points="1373,-20 1346,0 1373,20"/>
<polygon class="kd" points="1373,-20 1400,0 1373,20"/>
<polygon class="ke" points="1432,-20 1400,0 1432,20"/>
<polygon class="kf" points="1445,-20 1479,0 1445,20"/>
<polygon class="kj" points="1516,-20 1551,0 1516,20"/>
<polygon class="ki" points="1552,-20 1587,0 1552,20"/>
<polygon class="ki" points="1623,-20 1653,0 1623,20"/>
<polygon class="kv" points="1684,-20 1653,0 1684,20"/>
<polygon class="kv" points="1720,-20 1687,0 1720,20"/>
</g>

<g id="row14" class="row" transform="translate(0,2220)">
<polygon class="k4" points="798,-20 822,0 798,20"/>
<polygon class="d" points="832,-20 808,0 832,20"/>
<polygon class="w" points="842,-20 816,0 842,20"/>
<polygon class="k7" points="858,-20 827,0 858,20"/>
<polygon class="d" points="905,-20 867,0 905,20"/>
<polygon class="kC" points="905,-14 889,0 905,14"/>
<polygon class="k8" points="906,-20 939,0 906,20"/>
<polygon class="h hA" points="1011,-26 1048,0 1011,26"/><polygon class="h hi" points="1019,-13 1039,0 1019,13"/>
<polygon class="k9" points="1074,-20 1042,0 1074,20"/>
<polygon class="ka" points="1090,-20 1060,0 1090,20"/>
<polygon class="kc" points="1084,-20 1100,0 1084,20"/>
<polygon class="kb" points="1110,-20 1087,0 1110,20"/>
<polygon class="w" points="1118,-20 1095,0 1118,20"/>
<polygon class="kD" points="1128,-20 1105,0 1128,20"/>
<polygon class="kd" points="1120,-20 1150,0 1120,20"/>
<polygon class="ke" points="1182,-20 1150,0 1182,20"/>
</g>

<g id="row15" class="row" transform="translate(0,2276)">
<polygon class="w" points="668,-20 646,0 668,20"/>
<polygon class="k1" points="660,-20 676,0 660,20"/>
<polygon class="kp" points="664,-20 680,0 664,20"/>
<polygon class="k2" points="668,-20 684,0 668,20"/>
<polygon class="h hA" points="718,-26 675,0 718,26"/><polygon class="h hi" points="710,-13 685,0 710,13"/>
<polygon class="h hB" points="755,-26 712,0 755,26"/><polygon class="h hi" points="747,-13 722,0 747,13"/>
<polygon class="k5" points="763,-20 788,0 763,20"/>
<polygon class="k9" points="804,-20 772,0 804,20"/>
<polygon class="w" points="806,-20 782,0 806,20"/>
<polygon class="k1" points="808,-20 786,0 808,20"/>
<polygon class="kh" points="803,-20 818,0 803,20"/>
<polygon class="k2" points="810,-20 824,0 810,20"/>
<polygon class="k1" points="816,-20 830,0 816,20"/>
<polygon class="kw" points="835,-20 867,0 835,20"/>
<polygon class="kz" points="870,-20 900,0 870,20"/>
</g>

<g id="row16" class="row" transform="translate(0,2332)">
<polygon class="w" points="565,-20 588,0 565,20"/>
<polygon class="kB" points="606,-20 574,0 606,20"/>
<polygon class="kB" points="619,-20 652,0 619,20"/>
<polygon class="kB" points="677,-20 649,0 677,20"/>
<polygon class="w" points="712,-20 686,0 712,20"/>
<polygon class="k1" points="700,-20 712,0 700,20"/>
<polygon class="h hC" points="740,-26 711,0 740,26"/><polygon class="h hi" points="733,-13 720,0 733,13"/>
<polygon class="kx" points="730,-20 746,0 730,20"/>
<polygon class="k7" points="738,-20 752,0 738,20"/>
<polygon class="h hC" points="756,-26 742,0 756,26"/>
<polygon class="k5" points="755,-20 789,0 755,20"/>
<polygon class="k3" points="818,-20 792,0 818,20"/>
<polygon class="w" points="818,-20 835,0 818,20"/>
<polygon class="kw" points="835,-20 867,0 835,20"/>
<polygon class="kz" points="870,-20 900,0 870,20"/>
<polygon class="d" points="1220,-20 1204,0 1220,20"/>
<polygon class="w" points="1216,-20 1253,0 1216,20"/>
</g>

<g id="row17" class="row" transform="translate(0,2388)">
<polygon class="d" points="439,-20 471,0 439,20"/>
<polygon class="h hA" points="472,-26 505,0 472,26"/><polygon class="h hi" points="479,-13 497,0 479,13"/>
<polygon class="k9" points="534,-20 504,0 534,20"/>
<polygon class="kd" points="547,-20 574,0 547,20"/>
<polygon class="ke" points="606,-20 574,0 606,20"/>
<polygon class="kf" points="619,-20 652,0 619,20"/>
<polygon class="kj" points="654,-20 689,0 654,20"/>
<polygon class="kw" points="689,-20 723,0 689,20"/>
<polygon class="ku" points="726,-20 755,0 726,20"/>
<polygon class="kp" points="785,-20 755,0 785,20"/>
<polygon class="k1" points="798,-20 832,0 798,20"/>
<polygon class="w" points="832,-20 867,0 832,20"/>
</g>

<g id="legend">
<rect x="1310" y="2203" width="503" height="225" rx="40" ry="40" fill="none" stroke="#000" stroke-width="4"/>
<g class="row">
<polygon class="h hA" points="1328,2220 1370,2246 1328,2272"/><polygon class="h hi" points="1337,2233 1360,2246 1337,2259"/>
<polygon class="h hB" points="1570,2219 1614,2245 1570,2271"/><polygon class="h hi" points="1579,2232 1604,2245 1579,2258"/>
<polygon class="h hC" points="1328,2292 1370,2318 1328,2344"/><polygon class="h hi" points="1337,2305 1360,2318 1337,2331"/>
<polygon class="h hD" points="1570,2291 1614,2317 1570,2343"/><polygon class="h hi" points="1579,2304 1604,2317 1579,2330"/>
<polygon class="h hE" points="1328,2358 1370,2384 1328,2410"/><polygon class="h hj" points="1337,2371 1360,2384 1337,2397"/>
</g>
<text class="lg" x="1379" y="2252">A02-I</text>
<text class="lg" x="1623" y="2252">A03</text>
<text class="lg" x="1381" y="2326">A02-II</text>
<text class="lg" x="1623" y="2325">A02-I and A03</text>
<text class="lg" x="1379" y="2392">A02-I (Truncated)</text>
</g>
</svg>
